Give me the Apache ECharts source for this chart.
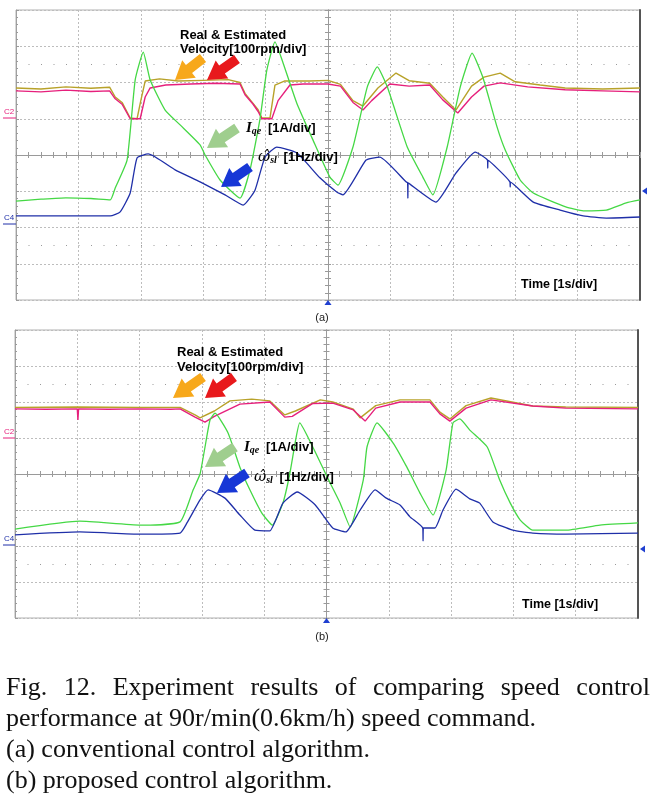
<!DOCTYPE html>
<html><head><meta charset="utf-8">
<script src="https://cdn.jsdelivr.net/npm/echarts@6/dist/echarts.min.js"></script>
<style>html,body{margin:0;padding:0;background:#fff}#c{width:666px;height:800px}</style>
</head><body><div id="c"></div>
<script>
// ---------- DATA (time in divisions from screen centre [1 s/div], value in divisions) ----------
// Panel (a): conventional control
const estVelA = [[-5,1.77],[-4.6,1.74],[-4.2,1.79],[-3.8,1.75],[-3.5,1.77],[-3.41,1.55],[-3.3,1.4],[-3.17,1.0],[-3.01,1.0],[-2.93,1.6],[-2.85,1.85],[-2.6,1.93],[-2.2,1.96],[-1.8,1.98],[-1.41,1.96],[-1.33,1.66],[-1.2,1.4],[-1.12,1.2],[-1.06,1.0],[-0.9,1.0],[-0.8,1.5],[-0.61,1.93],[-0.4,1.96],[0.0,1.96],[0.2,1.9],[0.4,1.45],[0.56,1.24],[0.7,1.5],[0.99,1.96],[1.3,1.9],[1.63,1.93],[1.84,1.52],[2.08,1.16],[2.3,1.6],[2.5,1.9],[2.76,1.99],[3.2,1.88],[3.8,1.8],[4.4,1.77],[5,1.74]];
const realVelA = [[-5,1.85],[-4.6,1.82],[-4.2,1.88],[-3.8,1.84],[-3.5,1.87],[-3.41,1.6],[-3.3,1.45],[-3.17,1.02],[-3.06,1.0],[-3.0,1.5],[-2.93,2.04],[-2.7,2.1],[-2.4,2.04],[-2.0,2.06],[-1.6,2.08],[-1.41,2.0],[-1.33,1.7],[-1.12,1.25],[-1.06,1.02],[-0.93,1.02],[-0.85,1.93],[-0.7,2.04],[-0.3,2.04],[0.0,2.06],[0.2,1.95],[0.4,1.5],[0.56,1.35],[0.8,1.85],[1.09,2.26],[1.3,2.05],[1.63,1.98],[1.84,1.6],[2.05,1.24],[2.3,1.9],[2.5,2.15],[2.76,2.26],[3.0,2.02],[3.4,1.93],[3.8,1.85],[4.4,1.82],[5,1.85]];
const iqeA = [[-5,-1.27],[-4.6,-1.22],[-4.2,-1.18],[-3.8,-1.2],[-3.49,-1.24],[-3.41,-0.91],[-3.22,-0.14],[-3.09,2.07],[-2.96,2.84],[-2.85,2.07],[-2.61,1.24],[-2.37,0.83],[-2.05,0.28],[-1.97,0.0],[-1.73,-0.69],[-1.41,-1.19],[-1.25,-0.41],[-1.09,0.99],[-0.98,2.34],[-0.85,3.12],[-0.72,2.54],[-0.5,1.43],[-0.24,0.41],[0.03,-0.61],[0.16,-0.83],[0.4,0.22],[0.63,1.88],[0.79,2.43],[0.95,1.88],[1.27,0.22],[1.52,-0.61],[1.68,-1.1],[1.91,0.22],[2.12,1.88],[2.31,2.81],[2.48,2.15],[2.71,0.77],[2.84,0.14],[3.08,-0.69],[3.29,-1.05],[3.81,-1.43],[4.09,-1.54],[4.46,-1.52],[4.78,-1.32],[5,-1.24]];
const wslA = [[-5,-1.68],[-3.49,-1.68],[-3.33,-1.57],[-3.17,-1.05],[-3.06,-0.08],[-2.88,0.03],[-2.45,-0.41],[-2.05,-0.74],[-1.65,-1.1],[-1.36,-1.38],[-1.17,-0.97],[-1.01,-0.06],[-0.82,0.22],[-0.5,0.06],[-0.13,-0.63],[0.14,-1.02],[0.24,-1.1],[0.61,-0.14],[0.83,-0.06],[1.25,-0.74],[1.275,-0.76],[1.28,-1.19],[1.285,-0.77],[1.73,-1.3],[2.05,-0.5],[2.36,0.08],[2.555,-0.14],[2.56,-0.36],[2.565,-0.15],[2.915,-0.74],[2.92,-0.88],[2.925,-0.75],[3.29,-1.3],[3.72,-1.52],[4.09,-1.68],[4.46,-1.74],[5,-1.71]];
// Panel (b): proposed control
const estVelB = [[-5,1.81],[-4.5,1.8],[-4.0,1.81],[-3.99,1.5],[-3.98,1.81],[-3.5,1.8],[-3.0,1.81],[-2.5,1.8],[-2.35,1.81],[-2.11,1.58],[-1.95,1.44],[-1.8,1.6],[-1.39,1.94],[-0.91,2.0],[-0.67,1.58],[-0.55,1.6],[-0.22,1.96],[0.1,1.97],[0.43,1.78],[0.62,1.47],[0.79,1.83],[1.18,2.0],[1.66,2.0],[1.82,1.67],[1.98,1.47],[2.24,1.83],[2.64,2.06],[3.31,1.89],[3.84,1.83],[5,1.81]];
const realVelB = [[-5,1.85],[-4,1.86],[-3,1.85],[-2.35,1.85],[-2.11,1.64],[-2.03,1.56],[-1.8,1.75],[-1.55,2.03],[-1.2,2.08],[-0.91,2.03],[-0.67,1.64],[-0.5,1.75],[-0.1,2.06],[0.1,2.0],[0.43,1.8],[0.54,1.56],[0.79,1.9],[1.18,2.06],[1.66,2.06],[1.82,1.72],[1.98,1.53],[2.24,1.9],[2.64,2.11],[3.31,1.89],[3.84,1.86],[5,1.85]];
const iqeB = [[-5,-1.53],[-3.96,-1.31],[-2.99,-1.42],[-2.35,-1.33],[-2.14,-0.44],[-2.03,0],[-1.95,0.75],[-1.87,1.5],[-1.79,1.69],[-1.58,1.14],[-1.39,0.19],[-1.23,-0.44],[-1.04,-1.08],[-0.87,-1.42],[-0.7,-0.81],[-0.59,0],[-0.5,0.9],[-0.43,1.42],[-0.22,0.75],[0.01,-0.08],[0.22,-0.81],[0.38,-1.47],[0.59,-0.17],[0.65,0.75],[0.81,1.42],[1.07,0.86],[1.29,0.19],[1.5,-0.53],[1.71,-1.14],[1.92,0.11],[2.03,1.42],[2.14,1.53],[2.3,1.22],[2.58,0.75],[2.78,-0.17],[2.95,-0.81],[3.11,-1.28],[3.31,-1.56],[3.84,-1.56],[4.39,-1.42],[5,-1.36]];
const wslB = [[-5,-1.69],[-3.96,-1.61],[-2.99,-1.67],[-2.35,-1.64],[-2.24,-1.36],[-2.03,-0.72],[-1.9,-0.44],[-1.63,-0.67],[-1.39,-1.14],[-1.15,-1.56],[-0.91,-1.58],[-0.7,-0.81],[-0.47,-0.5],[-0.18,-0.86],[0.1,-1.5],[0.31,-1.61],[0.54,-1.0],[0.78,-0.44],[0.96,-0.67],[1.18,-0.86],[1.34,-1.19],[1.545,-1.5],[1.55,-1.86],[1.555,-1.5],[1.74,-1.5],[1.87,-1.0],[2.08,-0.42],[2.3,-0.69],[2.46,-0.81],[2.67,-1.33],[2.99,-1.56],[3.31,-1.64],[3.84,-1.67],[5,-1.64]];

const seriesNames = ["Real Velocity", "Estimated Velocity", "Iqe", "ωsl"];
const panelLabels = ["(a)", "(b)"];
const velocityTitle = ["Real & Estimated", "Velocity[100rpm/div]"];
const iqeUnit = "[1A/div]";
const wslUnit = "[1Hz/div]";
const timeUnit = "Time [1s/div]";
const captionLine1 = ["Fig.", "12.", "Experiment", "results", "of", "comparing", "speed", "control"];
const captionRest = ["performance at 90r/min(0.6km/h) speed command.", "(a) conventional control algorithm.", "(b) proposed control algorithm."];

// ---------- CHART ----------
const chart = echarts.init(document.getElementById('c'), null, {renderer: 'canvas'});
const COL = {real: '#b8a22a', est: '#e6207c', iqe: '#45d845', wsl: '#1f2fa8', grid: '#bdbdbd', axis: '#9a9a9a'};
const panels = [
  {left: 16, top: 10, width: 624, height: 290},
  {left: 15, top: 330, width: 623, height: 288}
];
const grids = [], xAxes = [], yAxes = [], series = [];
const tickStyle = {color: COL.axis, width: 1};
panels.forEach((p, g) => {
  grids.push(Object.assign({show: true, borderColor: '#b0b0b0', borderWidth: 1, containLabel: false}, p));
  const baseX = {gridIndex: g, type: 'value', min: -5, max: 5, interval: 1, axisLabel: {show: false},
    axisLine: {show: true, onZero: true, lineStyle: {color: COL.axis}},
    axisTick: {show: true, inside: true, length: 3, lineStyle: tickStyle},
    minorTick: {show: true, splitNumber: 5, length: 3, lineStyle: tickStyle}};
  xAxes.push(Object.assign({}, baseX, {position: 'bottom', splitLine: {show: true, lineStyle: {color: COL.grid, type: [2, 2]}}}));
  xAxes.push(Object.assign({}, baseX, {position: 'top', splitLine: {show: false}}));
  const baseY = {gridIndex: g, type: 'value', min: -4, max: 4, interval: 1, axisLabel: {show: false},
    axisLine: {show: true, onZero: true, lineStyle: {color: COL.axis}},
    axisTick: {show: true, inside: true, length: 3, lineStyle: tickStyle},
    minorTick: {show: true, splitNumber: 5, length: 3, lineStyle: tickStyle}};
  yAxes.push(Object.assign({}, baseY, {position: 'left', splitLine: {show: true, lineStyle: {color: COL.grid, type: [2, 2]}}}));
  yAxes.push(Object.assign({}, baseY, {position: 'right', splitLine: {show: false}}));
  yAxes.push(Object.assign({}, baseY, {position: 'left', axisLine: {show: true, onZero: false, lineStyle: {color: '#a0a0a0'}}, splitLine: {show: false},
    axisTick: {show: true, inside: true, length: 3, lineStyle: tickStyle}, minorTick: {show: true, splitNumber: 5, length: 2, lineStyle: tickStyle}}));
  yAxes.push({gridIndex: g, type: 'value', min: -4, max: 4, interval: 1, position: 'right', axisLabel: {show: false},
    axisLine: {show: true, onZero: false, lineStyle: {color: '#555', width: 2}}, axisTick: {show: false}, splitLine: {show: false}});
});
const dataSets = [[realVelA, estVelA, iqeA, wslA], [realVelB, estVelB, iqeB, wslB]];
const colors = [COL.real, COL.est, COL.iqe, COL.wsl];
dataSets.forEach((set, g) => {
  set.forEach((d, k) => {
    const s = {name: seriesNames[k], type: 'line', xAxisIndex: g * 2, yAxisIndex: g * 4, data: d,
      showSymbol: false, symbol: 'none', smooth: k >= 2 ? 0.15 : false, animation: false,
      lineStyle: {color: colors[k], width: k >= 2 ? 1.3 : 1.4}, z: 3 + k};
    if (k === 3) {
      s.markLine = {silent: true, symbol: 'none', label: {show: false},
        lineStyle: {color: '#9a9a9a', type: [1, 11.5], width: 1},
        data: [{yAxis: 2.5}, {yAxis: -2.5}]};
    }
    series.push(s);
  });
});

// ---------- ANNOTATIONS ----------
function arrow(tip, tail, color) {
  const dx = tail[0] - tip[0], dy = tail[1] - tip[1];
  const L = Math.hypot(dx, dy), ux = dx / L, uy = dy / L, px = -uy, py = ux;
  const head = L * 0.5, hw = 11, sw = 5;
  const hx = tip[0] + ux * head, hy = tip[1] + uy * head;
  return {type: 'polygon', z: 100, shape: {points: [
    tip, [hx + px * hw, hy + py * hw], [hx + px * sw, hy + py * sw],
    [tail[0] + px * sw, tail[1] + py * sw], [tail[0] - px * sw, tail[1] - py * sw],
    [hx - px * sw, hy - py * sw], [hx - px * hw, hy - py * hw]]}, style: {fill: color}};
}
function txt(x, y, text, font, fill, align, extra) {
  return {type: 'text', x: x, y: y, z: 100, style: Object.assign({text: text, font: font, fill: fill || '#000',
    align: align || 'left', verticalAlign: 'middle'}, extra || {})};
}
const BOLD = 'bold 13px "Liberation Sans", Arial, sans-serif';
const rich = {
  it: {font: 'italic bold 15px "Liberation Serif", serif', fill: '#000'},
  sub: {font: 'italic bold 10px "Liberation Serif", serif', fill: '#000', padding: [7, 0, 0, 0]},
  w: {font: 'italic 15px "DejaVu Serif", serif', fill: '#000'},
  b: {font: BOLD, fill: '#000'}
};
const ann = [
  {rt: [180, 35], vel: [180, 49], arrows: [[[175, 80], [203, 58]], [[207, 80], [237, 59]], [[207, 148], [237, 128]], [[221, 187], [250, 167]]],
    iqe: [246, 128], wsl: [258, 157], time: [521, 285], lab: [322, 318], c2: 115, c4: 221, mk: 191},
  {rt: [177, 352], vel: [177, 367], arrows: [[[173, 398], [203, 377]], [[205, 398], [234, 377]], [[205, 467], [235, 447]], [[217, 493], [247, 473]]],
    iqe: [244, 447], wsl: [254, 477], time: [522, 605], lab: [322, 637], c2: 435, c4: 542, mk: 549}
];
const arrowCols = ['#f7a81b', '#e8191c', '#9fce8e', '#1737d6'];
const graphic = [];
ann.forEach((a, g) => {
  const p = panels[g];
  graphic.push(txt(a.rt[0], a.rt[1], velocityTitle[0], BOLD));
  graphic.push(txt(a.vel[0], a.vel[1], velocityTitle[1], BOLD));
  a.arrows.forEach((ar, i) => graphic.push(arrow(ar[0], ar[1], arrowCols[i])));
  graphic.push({type: 'text', x: a.iqe[0], y: a.iqe[1], z: 100, style: {text: '{it|I}{sub|qe}  {b|' + iqeUnit + '}', rich: rich, verticalAlign: 'middle'}});
  graphic.push({type: 'text', x: a.wsl[0], y: a.wsl[1], z: 100, style: {text: '{w|\u03C9\u0302}{sub|sl}  {b|' + wslUnit + '}', rich: rich, verticalAlign: 'middle'}});
  graphic.push(txt(a.time[0], a.time[1], timeUnit, 'bold 12.5px "Liberation Sans", Arial, sans-serif'));
  graphic.push(txt(a.lab[0], a.lab[1], panelLabels[g], '11px "Liberation Sans", Arial, sans-serif', '#222', 'center'));
  // channel markers
  graphic.push(txt(4, a.c2 - 3, 'C2', '8px "Liberation Sans", sans-serif', COL.est));
  graphic.push({type: 'line', z: 100, shape: {x1: 3, y1: a.c2 + 3, x2: p.left, y2: a.c2 + 3}, style: {stroke: COL.est, lineWidth: 1}});
  graphic.push(txt(4, a.c4 - 3, 'C4', '8px "Liberation Sans", sans-serif', COL.wsl));
  graphic.push({type: 'line', z: 100, shape: {x1: 3, y1: a.c4 + 3, x2: p.left, y2: a.c4 + 3}, style: {stroke: COL.wsl, lineWidth: 1}});
  const cx = p.left + p.width / 2, by = p.top + p.height;
  graphic.push({type: 'polygon', z: 100, shape: {points: [[cx, by], [cx - 3.5, by + 5], [cx + 3.5, by + 5]]}, style: {fill: '#1f3fd0'}});
  const rx = p.left + p.width + 2;
  graphic.push({type: 'polygon', z: 100, shape: {points: [[rx, a.mk], [rx + 5, a.mk - 3.5], [rx + 5, a.mk + 3.5]]}, style: {fill: '#1f3fd0'}});
});

// caption (first line justified between x=6 and x=650)
const CAP_FONT = '26px "Liberation Serif", "Times New Roman", serif';
const ctx = document.createElement('canvas').getContext('2d');
ctx.font = CAP_FONT;
const widths = captionLine1.map(w => ctx.measureText(w).width);
const total = widths.reduce((s, v) => s + v, 0);
const gap = (644 - total) / (captionLine1.length - 1);
let cx0 = 6;
captionLine1.forEach((w, i) => { graphic.push(txt(cx0, 688, w, CAP_FONT, '#111')); cx0 += widths[i] + gap; });
captionRest.forEach((line, i) => graphic.push(txt(6, 719 + i * 31, line, CAP_FONT, '#111')));

chart.setOption({
  animation: false,
  backgroundColor: '#fff',
  grid: grids, xAxis: xAxes, yAxis: yAxes, series: series, graphic: graphic
});
</script></body></html>
